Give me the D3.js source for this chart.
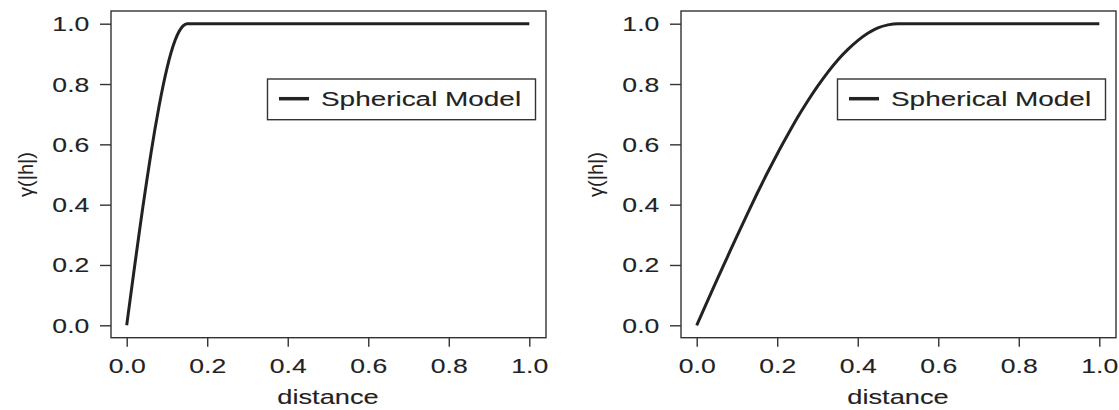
<!DOCTYPE html>
<html>
<head>
<meta charset="utf-8">
<script src="https://cdn.jsdelivr.net/npm/d3@7"></script>
<style>
  html, body { margin: 0; padding: 0; background: #fff; }
  svg { display: block; }
  text { font-family: "Liberation Sans", Arial, Helvetica, sans-serif; fill: #222; stroke: #222; stroke-width: 0.12px; }
</style>
</head>
<body>
<svg id="chart" width="1119" height="410"></svg>
<script>
// Spherical variogram, short range (about 0.15)
const distShort  = [0, 0.01, 0.02, 0.03, 0.04, 0.05, 0.06, 0.07, 0.08, 0.09, 0.10, 0.11, 0.12, 0.13, 0.14, 0.15, 1.0];
const gammaShort = [0, 0.100, 0.199, 0.296, 0.391, 0.481, 0.568, 0.649, 0.724, 0.792, 0.852, 0.903, 0.944, 0.974, 0.993, 1.0, 1.0];

// Spherical variogram, longer range (about 0.5)
const distLong  = [0, 0.025, 0.05, 0.075, 0.10, 0.125, 0.15, 0.175, 0.20, 0.225, 0.25, 0.275, 0.30, 0.325, 0.35, 0.375, 0.40, 0.425, 0.45, 0.475, 0.50, 1.0];
const gammaLong = [0, 0.075, 0.150, 0.223, 0.296, 0.367, 0.437, 0.504, 0.568, 0.629, 0.688, 0.742, 0.792, 0.838, 0.879, 0.914, 0.944, 0.968, 0.986, 0.996, 1.0, 1.0];

const xTicks = [0, 0.2, 0.4, 0.6, 0.8, 1.0];
const yTicks = [0, 0.2, 0.4, 0.6, 0.8, 1.0];
const legendLabel = "Spherical Model";
const xTitle = "distance";
const yTitle = "γ(|h|)";

const panels = [
  { dist: distShort, gamma: gammaShort, offset: 0 },
  { dist: distLong,  gamma: gammaLong,  offset: 570 }
];

const svg = d3.select("#chart");
const SX = 1.33;          // horizontal stretch of lettering
const ink = "#222";
const frame = "#333";

panels.forEach(p => {
  const g = svg.append("g").attr("transform", `translate(${p.offset},0)`);

  const box = { left: 111, right: 546, top: 11, bottom: 337.7 };
  const x = d3.scaleLinear().domain([0, 1]).range([126.7, 529.3]);
  const y = d3.scaleLinear().domain([0, 1]).range([325.3, 23.7]);

  // plot frame
  g.append("rect")
    .attr("x", box.left).attr("y", box.top)
    .attr("width", box.right - box.left).attr("height", box.bottom - box.top)
    .attr("fill", "none").attr("stroke", frame).attr("stroke-width", 1.4);

  // bottom axis
  const xa = g.append("g")
    .attr("transform", `translate(0,${box.bottom})`)
    .call(d3.axisBottom(x).tickValues(xTicks).tickSize(9).tickFormat(d3.format(".1f")));
  xa.select(".domain").remove();
  xa.selectAll(".tick line").attr("stroke", frame).attr("stroke-width", 1.4);
  xa.selectAll(".tick text")
    .attr("y", 35.3).attr("dy", null).attr("x", 0)
    .attr("transform", `scale(${SX},1)`)
    .style("font-size", "20px").attr("fill", ink);

  // left axis
  const ya = g.append("g")
    .attr("transform", `translate(${box.left},0)`)
    .call(d3.axisLeft(y).tickValues(yTicks).tickSize(11).tickFormat(d3.format(".1f")));
  ya.select(".domain").remove();
  ya.selectAll(".tick line").attr("stroke", frame).attr("stroke-width", 1.4);
  ya.selectAll(".tick text")
    .attr("x", -21.7 / SX).attr("dy", "0.35em")
    .attr("transform", `scale(${SX},1)`)
    .style("font-size", "20px").attr("fill", ink);

  // axis titles
  g.append("text")
    .attr("transform", `translate(${(x(0) + x(1)) / 2},403.5) scale(${SX},1)`)
    .attr("text-anchor", "middle")
    .style("font-size", "20.5px")
    .text(xTitle);

  g.append("text")
    .attr("transform", `translate(33,${(y(0) + y(1)) / 2}) scale(1.05,1) rotate(-90)`)
    .attr("text-anchor", "middle")
    .style("font-size", "20px")
    .style("stroke-width", "0px")
    .text(yTitle);

  // variogram curve
  const pts = p.dist.map((d, i) => [d, p.gamma[i]]);
  const line = d3.line().x(d => x(d[0])).y(d => y(d[1])).curve(d3.curveMonotoneX);
  g.append("path")
    .datum(pts)
    .attr("d", line)
    .attr("fill", "none")
    .attr("stroke", ink)
    .attr("stroke-width", 3)
    .attr("stroke-linejoin", "round");

  // legend
  const lg = g.append("g");
  lg.append("rect")
    .attr("x", 267.5).attr("y", 79)
    .attr("width", 268).attr("height", 40.7)
    .attr("fill", "#fff").attr("stroke", frame).attr("stroke-width", 1.4);
  lg.append("line")
    .attr("x1", 279).attr("x2", 309).attr("y1", 98.7).attr("y2", 98.7)
    .attr("stroke", ink).attr("stroke-width", 3.5);
  lg.append("text")
    .attr("transform", `translate(321,106.3) scale(${SX},1)`)
    .style("font-size", "21px")
    .text(legendLabel);
});
</script>
</body>
</html>
